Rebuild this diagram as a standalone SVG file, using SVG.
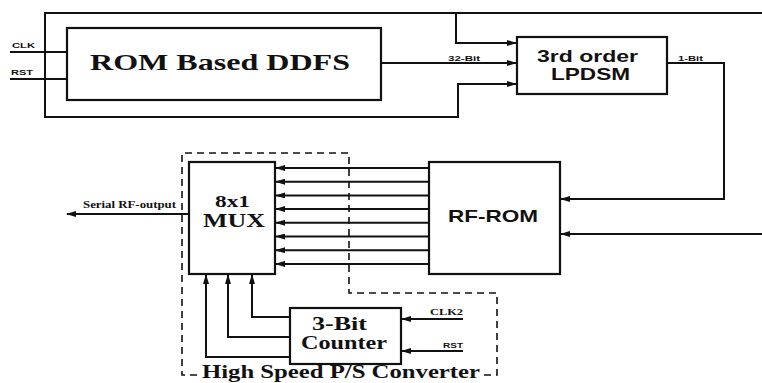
<svg xmlns="http://www.w3.org/2000/svg" width="762" height="383" viewBox="0 0 762 383">
<style>
.ln{fill:none;stroke:#111;stroke-width:2}
.box{fill:#fff;stroke:#111;stroke-width:2.2}
.dash{fill:none;stroke:#111;stroke-width:1.6;stroke-dasharray:7,5}
.ar{marker-end:url(#ah)}
.serif{font-family:"Liberation Serif","Times New Roman",serif;font-weight:bold;fill:#111}
.sans{font-family:"Liberation Sans",Arial,sans-serif;font-weight:bold;fill:#111}
</style>
<defs>
<marker id="ah" markerUnits="userSpaceOnUse" markerWidth="10" markerHeight="6" refX="9" refY="3" orient="auto">
<path d="M0,0 L10,3 L0,6 Z" fill="#111"/>
</marker>
</defs>
<rect width="762" height="383" fill="#fff"/>
<g id="connectors">
<polyline class="ln ar" points="762,13 45,13 45,117 458,117 458,84 516,84"/>
<polyline class="ln ar" points="456,13 456,43 516,43"/>
<line class="ln" x1="10" y1="52" x2="67" y2="52"/>
<line class="ln" x1="10" y1="79" x2="67" y2="79"/>
<line class="ln ar" x1="381" y1="63" x2="516" y2="63"/>
<polyline class="ln ar" points="667,63 724,63 724,199 561,199"/>
<line class="ln ar" x1="762" y1="234" x2="561" y2="234"/>
<line class="ln ar" x1="429" y1="168" x2="276" y2="168"/>
<line class="ln ar" x1="429" y1="181.7" x2="276" y2="181.7"/>
<line class="ln ar" x1="429" y1="195.4" x2="276" y2="195.4"/>
<line class="ln ar" x1="429" y1="209.1" x2="276" y2="209.1"/>
<line class="ln ar" x1="429" y1="222.8" x2="276" y2="222.8"/>
<line class="ln ar" x1="429" y1="236.5" x2="276" y2="236.5"/>
<line class="ln ar" x1="429" y1="250.2" x2="276" y2="250.2"/>
<line class="ln ar" x1="429" y1="263.9" x2="276" y2="263.9"/>
<line class="ln ar" x1="189" y1="214" x2="67" y2="214"/>
<polyline class="ln ar" points="290,317 252,317 252,275"/>
<polyline class="ln ar" points="290,337 228,337 228,275"/>
<polyline class="ln ar" points="290,357 206,357 206,275"/>
<line class="ln ar" x1="463" y1="319" x2="402" y2="319"/>
<line class="ln ar" x1="463" y1="351" x2="402" y2="351"/>
</g>
<g id="ps-converter">
<polyline class="dash" points="197,375 182,375 182,153 349,153 349,293 497,293 497,375 482,375"/>
<text class="serif" x="202" y="378" font-size="18" textLength="278" lengthAdjust="spacingAndGlyphs">High Speed P/S Converter</text>
</g>
<g id="ddfs">
<rect class="box" x="67" y="28" width="314" height="72"/>
<text class="serif" x="90" y="70" font-size="24" textLength="260" lengthAdjust="spacingAndGlyphs">ROM Based DDFS</text>
</g>
<g id="lpdsm">
<rect class="box" x="517" y="37" width="150" height="57"/>
<text class="sans" x="537" y="62" font-size="17" textLength="101" lengthAdjust="spacingAndGlyphs">3rd order</text>
<text class="sans" x="551" y="80" font-size="17" textLength="79" lengthAdjust="spacingAndGlyphs">LPDSM</text>
</g>
<g id="rf-rom">
<rect class="box" x="429" y="162" width="131" height="112"/>
<text class="sans" x="448" y="222" font-size="17" textLength="90" lengthAdjust="spacingAndGlyphs">RF-ROM</text>
</g>
<g id="mux">
<rect class="box" x="189" y="162" width="86" height="112"/>
<text class="serif" x="215" y="207" font-size="17" textLength="35" lengthAdjust="spacingAndGlyphs">8x1</text>
<text class="serif" x="203" y="227" font-size="18" textLength="62" lengthAdjust="spacingAndGlyphs">MUX</text>
</g>
<g id="counter">
<rect class="box" x="290" y="308" width="111" height="56"/>
<text class="serif" x="312" y="330" font-size="18" textLength="55" lengthAdjust="spacingAndGlyphs">3-Bit</text>
<text class="serif" x="301" y="349" font-size="18" textLength="86" lengthAdjust="spacingAndGlyphs">Counter</text>
</g>
<g id="labels">
<text class="sans" x="12" y="48" font-size="8" textLength="23" lengthAdjust="spacingAndGlyphs">CLK</text>
<text class="sans" x="11" y="75" font-size="8" textLength="22" lengthAdjust="spacingAndGlyphs">RST</text>
<text class="sans" x="448" y="61" font-size="8" textLength="32" lengthAdjust="spacingAndGlyphs">32-Bit</text>
<text class="sans" x="678" y="61" font-size="8" textLength="25" lengthAdjust="spacingAndGlyphs">1-Bit</text>
<text class="serif" x="83" y="208" font-size="10" textLength="93" lengthAdjust="spacingAndGlyphs">Serial RF-output</text>
<text class="serif" x="430" y="315" font-size="9" textLength="33" lengthAdjust="spacingAndGlyphs">CLK2</text>
<text class="sans" x="443" y="348" font-size="8" textLength="20" lengthAdjust="spacingAndGlyphs">RST</text>
</g>
</svg>
